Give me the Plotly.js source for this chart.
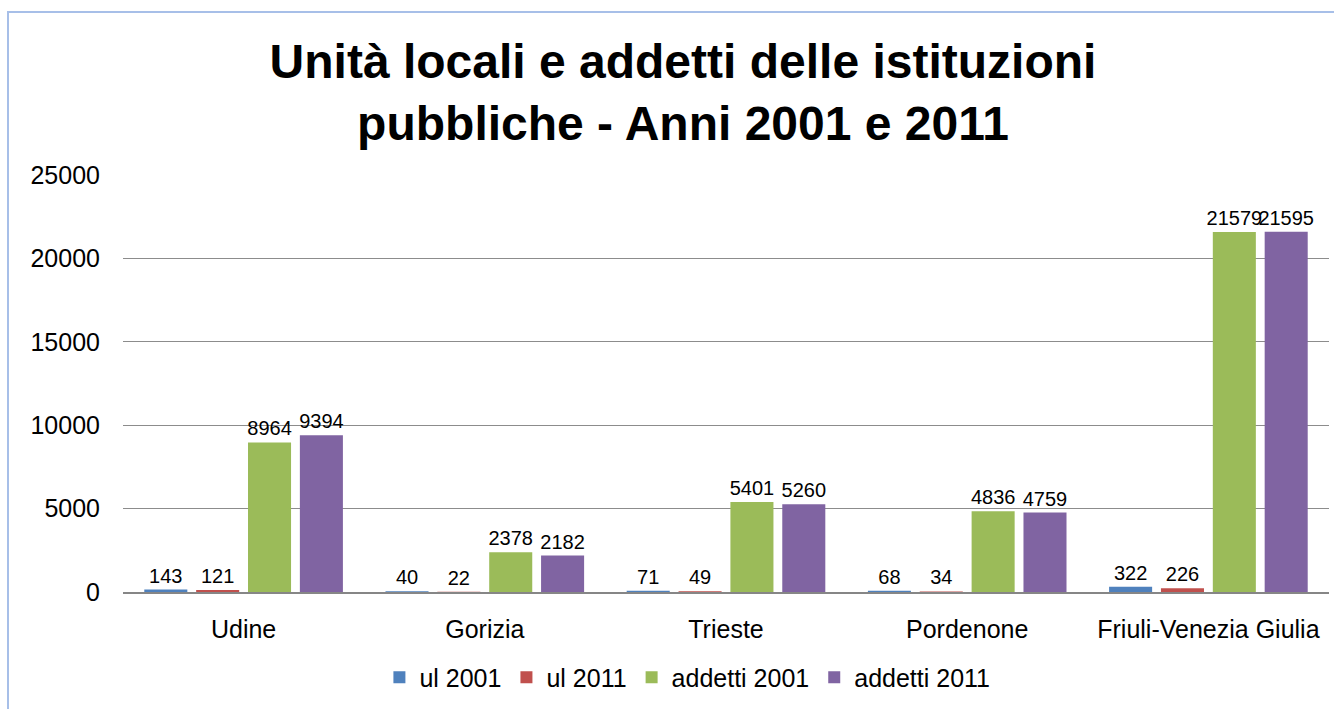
<!DOCTYPE html>
<html>
<head>
<meta charset="utf-8">
<script src="https://cdn.plot.ly/plotly-3.0.1.min.js"></script>
<style>
html,body{margin:0;padding:0;background:#fff;}
#wrap{position:relative;width:1334px;height:709px;}
#frame{position:absolute;left:7px;top:11px;width:1340px;height:720px;border-left:2px solid #A7BFE8;border-top:2px solid #A7BFE8;pointer-events:none;z-index:5;}
#chart{position:absolute;left:0;top:0;width:1334px;height:709px;}
</style>
</head>
<body>
<div id="wrap"><div id="chart"></div><div id="frame"></div></div>
<script>
var categories = ["Udine", "Gorizia", "Trieste", "Pordenone", "Friuli-Venezia Giulia"];
var seriesNames = ["ul 2001", "ul 2011", "addetti 2001", "addetti 2011"];
var ul2001 = [143, 40, 71, 68, 322];
var ul2011 = [121, 22, 49, 34, 226];
var addetti2001 = [8964, 2378, 5401, 4836, 21579];
var addetti2011 = [9394, 2182, 5260, 4759, 21595];
var yTicks = [0, 5000, 10000, 15000, 20000, 25000];

var colors = ["#4F81BD", "#C0504D", "#9BBB59", "#8064A2"];
var values = [ul2001, ul2011, addetti2001, addetti2011];
var FONT = "Liberation Sans, Arial, sans-serif";

var traces = values.map(function(v, i){
  return {
    type: "bar",
    name: seriesNames[i],
    x: categories,
    y: v,
    marker: {color: colors[i]},
    text: v.map(String),
    textposition: "outside",
    constraintext: "none",
    textfont: {family: FONT, size: 20, color: "#000"},
    cliponaxis: false,
    hoverinfo: "x+y+name"
  };
});

var layout = {
  width: 1334, height: 709,
  margin: {l: 123, r: 5, t: 175, b: 117},
  paper_bgcolor: "#fff", plot_bgcolor: "#fff",
  font: {family: FONT, color: "#000"},
  title: {
    text: "<b>Unità locali e addetti delle istituzioni<br>pubbliche - Anni 2001 e 2011</b>",
    font: {family: FONT, size: 48, color: "#000"},
    x: 0.512, xanchor: "center", y: 0.89, yanchor: "middle"
  },
  barmode: "group",
  bargap: 0.14,
  bargroupgap: 0.17,
  xaxis: {
    showline: true, linecolor: "#868686", linewidth: 2,
    showgrid: false, ticks: "", tickfont: {family: FONT, size: 25, color: "#000"},
    ticklabelstandoff: 14
  },
  yaxis: {
    range: [0, 25000], tickvals: yTicks, ticktext: yTicks.map(String),
    showgrid: true, gridcolor: "#8C8C8C", gridwidth: 1,
    zeroline: false, showline: false, ticks: "",
    tickfont: {family: FONT, size: 25, color: "#000"},
    ticklabelstandoff: 22
  },
  legend: {
    orientation: "h", x: 0.468, xanchor: "center", y: -0.205, yanchor: "middle",
    font: {family: FONT, size: 25, color: "#000"},
    itemwidth: 30, traceorder: "normal"
  },
  showlegend: true
};

Plotly.newPlot("chart", traces, layout, {displayModeBar: false, staticPlot: true});
</script>
</body>
</html>
